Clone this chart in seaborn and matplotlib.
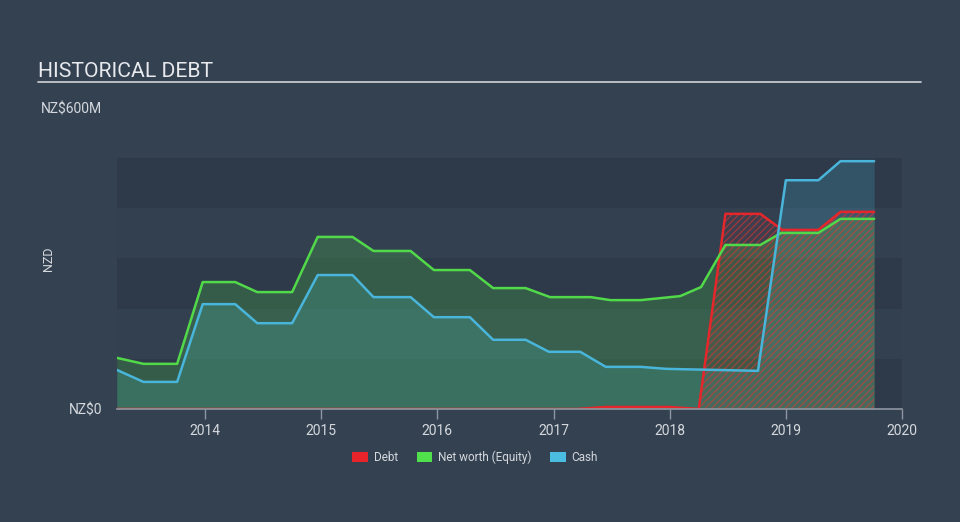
import matplotlib
matplotlib.use("Agg")
import matplotlib.pyplot as plt
import seaborn as sns
import pandas as pd
from matplotlib.patches import Patch
from matplotlib.lines import Line2D

# ---------------- data (NZ$ millions, decimal years) ----------------
equity_dates = [2013.24, 2013.47, 2013.76, 2013.98, 2014.26, 2014.45, 2014.75, 2014.97,
                2015.27, 2015.45, 2015.77, 2015.97, 2016.28, 2016.48, 2016.76, 2016.97,
                2017.32, 2017.49, 2017.75, 2018.09, 2018.27, 2018.48, 2018.78, 2018.96,
                2019.28, 2019.47, 2019.76]
equity = [102, 90, 90, 253, 253, 233, 233, 343,
          343, 315, 315, 277, 277, 241, 241, 223,
          223, 217, 217, 225, 243, 327, 327, 351,
          351, 379, 379]

cash_dates = [2013.24, 2013.47, 2013.76, 2013.98, 2014.26, 2014.45, 2014.75, 2014.97,
              2015.27, 2015.45, 2015.77, 2015.97, 2016.28, 2016.48, 2016.76, 2016.96,
              2017.23, 2017.45, 2017.75, 2017.97, 2018.76, 2019.00, 2019.28, 2019.47,
              2019.76]
cash = [78, 54, 54, 209, 209, 171, 171, 267,
        267, 223, 223, 183, 183, 138, 138, 114,
        114, 84, 84, 80, 76, 456, 456, 494,
        494]

debt_dates = [2013.24, 2017.20, 2017.45, 2018.00, 2018.25, 2018.48, 2018.78, 2018.97,
              2019.28, 2019.47, 2019.76]
debt = [0, 0, 4, 4, 0, 389, 389, 357, 357, 393, 393]

year_ticks = [2014, 2015, 2016, 2017, 2018, 2019, 2020]
y_ticks = [0, 600]
y_tick_labels = ["NZ$0", "NZ$600M"]
series_names = ["Debt", "Net worth (Equity)", "Cash"]

# ---------------- style ----------------
BG = "#344151"
STRIPE_DARK = "#2e3a49"
STRIPE_LIGHT = "#334050"
TEXT = "#d5d9de"
AXIS = "#8d96a1"
C_DEBT = "#e5262b"
C_EQ = "#52d94a"
C_CASH = "#4ab5da"

sns.set_theme(style="dark")
plt.rcParams["font.family"] = ["Roboto", "DejaVu Sans"]
plt.rcParams["hatch.linewidth"] = 0.9

fig = plt.figure(figsize=(9.6, 5.22), dpi=100, facecolor=BG)
ax = fig.add_axes([0.1219, 0.2165, 0.8177, 0.5766])
ax.set_facecolor("none")

x0, x1 = 2013.2425, 2020.0
# horizontal stripes 0..500
for i in range(5):
    ax.axhspan(i * 100, (i + 1) * 100, color=STRIPE_DARK if i % 2 == 0 else STRIPE_LIGHT,
               lw=0, zorder=0)

# fills
ax.fill_between(cash_dates, 0, cash, color=C_CASH, alpha=0.21, lw=0, zorder=1)
ax.fill_between(equity_dates, 0, equity, color=C_EQ, alpha=0.21, lw=0, zorder=2)
ax.fill_between(debt_dates, 0, debt, facecolor=(0.9, 0.15, 0.17, 0.07),
                edgecolor=(0.92, 0.2, 0.2, 0.55), hatch="/////", lw=0, zorder=3)

# lines
df = pd.concat([
    pd.DataFrame({"year": debt_dates, "value": debt, "series": series_names[0]}),
    pd.DataFrame({"year": equity_dates, "value": equity, "series": series_names[1]}),
    pd.DataFrame({"year": cash_dates, "value": cash, "series": series_names[2]}),
])
sns.lineplot(data=df, x="year", y="value", hue="series", estimator=None, sort=False,
             palette={series_names[0]: C_DEBT, series_names[1]: C_EQ, series_names[2]: C_CASH},
             linewidth=1.8, legend=False, ax=ax, zorder=4)

ax.set_xlim(x0, x1)
ax.set_ylim(0, 600)
ax.set_xlabel("")
ax.set_ylabel("NZD", color=TEXT, fontsize=9)
ax.yaxis.set_label_coords(-0.079, 0.5)
ax.grid(False)

for s in ["top", "right", "left"]:
    ax.spines[s].set_visible(False)
ax.spines["bottom"].set_color(AXIS)
ax.spines["bottom"].set_linewidth(1.2)
ax.spines["bottom"].set_zorder(5)

ax.set_xticks(year_ticks)
ax.set_xticklabels([str(y) for y in year_ticks])
ax.tick_params(axis="x", colors=AXIS, labelcolor=TEXT, labelsize=10, length=7, width=1,
               direction="out", pad=4, bottom=True)
ax.set_yticks(y_ticks)
ax.set_yticklabels(y_tick_labels)
ax.tick_params(axis="y", length=0, labelcolor=TEXT, labelsize=10, pad=10.8, left=False)

# title + rule
fig.text(0.0396, 0.8525, "HISTORICAL DEBT", color="#e8eaed", fontsize=15.2, va="baseline",
         ha="left")
fig.add_artist(Line2D([0.0396, 0.959], [0.843, 0.843], transform=fig.transFigure,
                      color="#c3c8ce", lw=1.3))

# legend
handles = [Patch(facecolor="#e8242a", edgecolor="none"),
           Patch(facecolor="#4fe04c", edgecolor="none"),
           Patch(facecolor="#4bbde0", edgecolor="none")]
leg = fig.legend(handles, series_names, loc="center", bbox_to_anchor=(0.495, 0.1245),
                 ncol=3, frameon=False, fontsize=8.5, handlelength=1.3, handleheight=0.9,
                 handletextpad=0.5, columnspacing=1.6)
for t in leg.get_texts():
    t.set_color(TEXT)

fig.savefig("out.png", dpi=100, facecolor=BG)
